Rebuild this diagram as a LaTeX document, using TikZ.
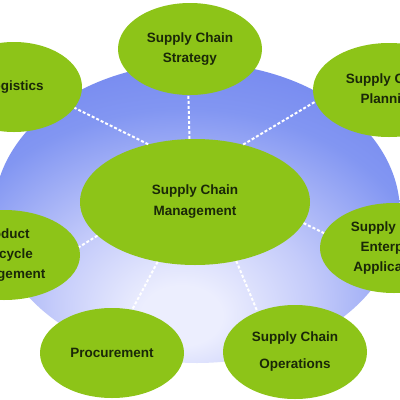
\documentclass[tikz,border=0pt]{standalone}
\usepackage{fontspec}
\setmainfont{Liberation Sans}
\usetikzlibrary{shapes.geometric}
\definecolor{leaf}{RGB}{141,196,24}
\definecolor{inkc}{RGB}{26,40,8}
\definecolor{bledge}{RGB}{100,118,236}
\definecolor{blmid}{RGB}{130,150,242}
\definecolor{bllite}{RGB}{196,203,250}
\definecolor{blcore}{RGB}{236,238,254}
\pgfdeclareradialshading{blueglow}{\pgfpoint{-2bp}{-18bp}}{%
  color(0bp)=(blcore); color(5bp)=(blcore); color(16bp)=(bllite);
  color(30bp)=(blmid); color(50bp)=(bledge); color(100bp)=(bledge)}
\tikzset{
  bubble/.style={ellipse, fill=leaf, inner sep=0pt, align=center, text=inkc,
    font=\bfseries\fontsize{13.5}{20}\selectfont},
  dotline/.style={draw=white, line width=2pt, dash pattern=on 3pt off 2pt}
}
\begin{document}
\begin{tikzpicture}[x=1pt,y=-1pt]
\useasboundingbox (0,0) rectangle (400,400);
\fill[white] (0,0) rectangle (400,400);
\clip (0,0) rectangle (400,400);
\shade[shading=blueglow] (197,213) ellipse [x radius=203pt, y radius=150pt];
\node[bubble, minimum width=136pt, minimum height=90pt] (log) at (14,87) {Logistics};
\node[bubble, minimum width=144pt, minimum height=92pt] (str) at (190,49) {Supply Chain\\Strategy};
\node[bubble, minimum width=152pt, minimum height=94pt] (pla) at (389,90) {Supply Chain\\Planning};
\node[bubble, minimum width=230pt, minimum height=126pt, font=\bfseries\fontsize{13.5}{21}\selectfont] (scm) at (195,202) {Supply Chain\\Management};
\node[bubble, minimum width=152pt, minimum height=90pt] (plm) at (4,255) {Product\\Lifecycle\\Management};
\node[bubble, minimum width=148pt, minimum height=90pt] (ent) at (394,248) {Supply Chain\\Enterprise\\Applications};
\node[bubble, minimum width=144pt, minimum height=90pt] (pro) at (112,353) {Procurement};
\node[bubble, minimum width=144pt, minimum height=94pt, font=\bfseries\fontsize{13.5}{27}\selectfont] (ope) at (295,352) {Supply Chain\\Operations};
\draw[dotline] (scm.129) -- (log.341);
\draw[dotline] (scm.95) -- (str.268);
\draw[dotline] (scm.50) -- (pla.189);
\draw[dotline] (scm.349) -- (ent.168);
\draw[dotline] (scm.305) -- (ope.133);
\draw[dotline] (scm.238) -- (pro.65);
\draw[dotline] (scm.199) -- (plm.6);
\end{tikzpicture}
\end{document}
